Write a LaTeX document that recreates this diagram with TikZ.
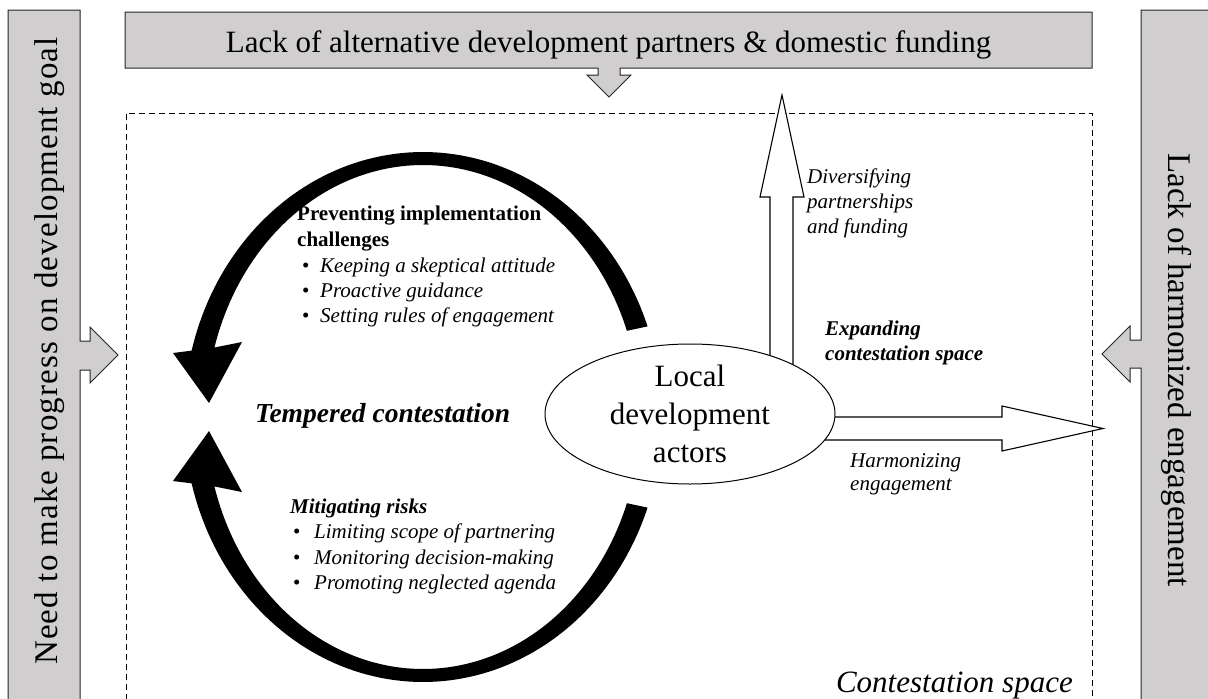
\documentclass[tikz,border=0pt]{standalone}
\usepackage{fontspec}
\setmainfont{Liberation Serif}
\usetikzlibrary{shapes.geometric}
\definecolor{bargray}{RGB}{208,206,206}
\begin{document}
\begin{tikzpicture}[x=1pt,y=-1pt,
  bar/.style={fill=bargray, draw=black!85, line width=1pt},
  hollow/.style={fill=white, draw=black, line width=1.1pt},
  lbl/.style={inner sep=0pt, anchor=base west},
  itl/.style={lbl, font=\fontsize{21}{25}\selectfont\itshape},
  bld/.style={lbl, font=\fontsize{21}{25}\selectfont\bfseries},
  bit/.style={lbl, font=\fontsize{21}{25}\selectfont\bfseries\itshape},
  big/.style={inner sep=0pt, font=\fontsize{31}{36}\selectfont},
  side/.style={inner sep=0pt, font=\fontsize{33}{38}\selectfont},
]
\useasboundingbox (0,0) rectangle (1208,699);
\clip (0,0) rectangle (1208,699);

% contestation space (dashed frame)
\draw[line width=1pt, dash pattern=on 6pt off 4pt] (126,760) -- (126,113) -- (1092,113) -- (1092,760);

% side and top bars with their block arrows
\draw[bar] (8,760) -- (8,10) -- (80,10) -- (80,341) -- (90,341) -- (90,327) -- (118,355) -- (90,383) -- (90,370) -- (80,370) -- (80,760) -- cycle;
\draw[bar] (125,12) -- (1092,12) -- (1092,68) -- (620,68) -- (620,75) -- (631,75) -- (609,97) -- (587,75) -- (598,75) -- (598,68) -- (125,68) -- cycle;
\draw[bar] (1141,760) -- (1141,368) -- (1130,368) -- (1130,382) -- (1102,354) -- (1130,326) -- (1130,340) -- (1141,340) -- (1141,10) -- (1240,10) -- (1240,760) -- cycle;

\node[big, anchor=base] (toptext) at (608.5,52) {Lack of alternative development partners \& domestic funding};
\node[side, rotate=90] (lefttext) at (50,351) {\addfontfeature{LetterSpace=3.5}Need to make progress on development goal};
\node[side, rotate=-90] (righttext) at (1177,370) {Lack of harmonized engagement};

% circular arrows
\fill plot[domain=20:165.5,samples=90] ({423+239*cos(\x)},{417-265*sin(\x)}) -- (173,353) -- (209,403) -- (242,342) -- plot[domain=164:20,samples=90] ({423+217*cos(\x)},{417-252*sin(\x)}) -- cycle;
\fill plot[domain=-20:-165.5,samples=90] ({423+239*cos(\x)},{417-265*sin(\x)}) -- (173,481) -- (209,431) -- (242,492) -- plot[domain=-164:-20,samples=90] ({423+217*cos(\x)},{417-252*sin(\x)}) -- cycle;

% hollow arrows out of the actors
\coordinate (ac) at (690,414);
\coordinate (uptip) at (782,95);
\coordinate (rtip) at (1103,428.5);
\draw[hollow] (770,400) -- (770,197) -- (760,197) -- (uptip) -- (804,197) -- (793,197) -- (793,400) -- cycle;
\draw[hollow] (800,417) -- (1002,417) -- (1002,406) -- (rtip) -- (1002,451) -- (1002,440) -- (800,440) -- cycle;

\node[ellipse, draw, line width=1pt, fill=white, minimum width=290pt, minimum height=140pt, inner sep=0pt, align=center, font=\fontsize{31}{38}\selectfont] (actors) at (ac) {Local\\development\\actors};

% texts
\node[inner sep=0pt, anchor=base west, font=\fontsize{27.5}{32}\selectfont\bfseries\itshape] (temp) at (255,422) {Tempered contestation};

\node[bld] (p1) at (297,220) {Preventing implementation};
\node[bld] (p2) at (297,246) {challenges};
\node[itl] (p3) at (302,272) {\makebox[18pt][l]{\upshape\textbullet}Keeping a skeptical attitude};
\node[itl] (p4) at (302,297) {\makebox[18pt][l]{\upshape\textbullet}Proactive guidance};
\node[itl] (p5) at (302,322) {\makebox[18pt][l]{\upshape\textbullet}Setting rules of engagement};

\node[bit] (m1) at (290,513) {Mitigating risks};
\node[itl] (m2) at (293,538) {\makebox[21pt][l]{\upshape\textbullet}Limiting scope of partnering};
\node[itl] (m3) at (293,564) {\makebox[21pt][l]{\upshape\textbullet}Monitoring decision-making};
\node[itl] (m4) at (293,589) {\makebox[21pt][l]{\upshape\textbullet}Promoting neglected agenda};

\node[itl] (d1) at (807,183) {Diversifying};
\node[itl] (d2) at (807,208) {partnerships};
\node[itl] (d3) at (807,233) {and funding};

\node[bit] (e1) at (825,335) {Expanding};
\node[bit] (e2) at (825,360) {contestation space};

\node[itl] (h1) at (850,467) {Harmonizing};
\node[itl] (h2) at (850,490) {engagement};

\node[inner sep=0pt, anchor=base east, font=\fontsize{31}{36}\selectfont\itshape] (cs) at (1073,692) {Contestation space};
\end{tikzpicture}
\end{document}
